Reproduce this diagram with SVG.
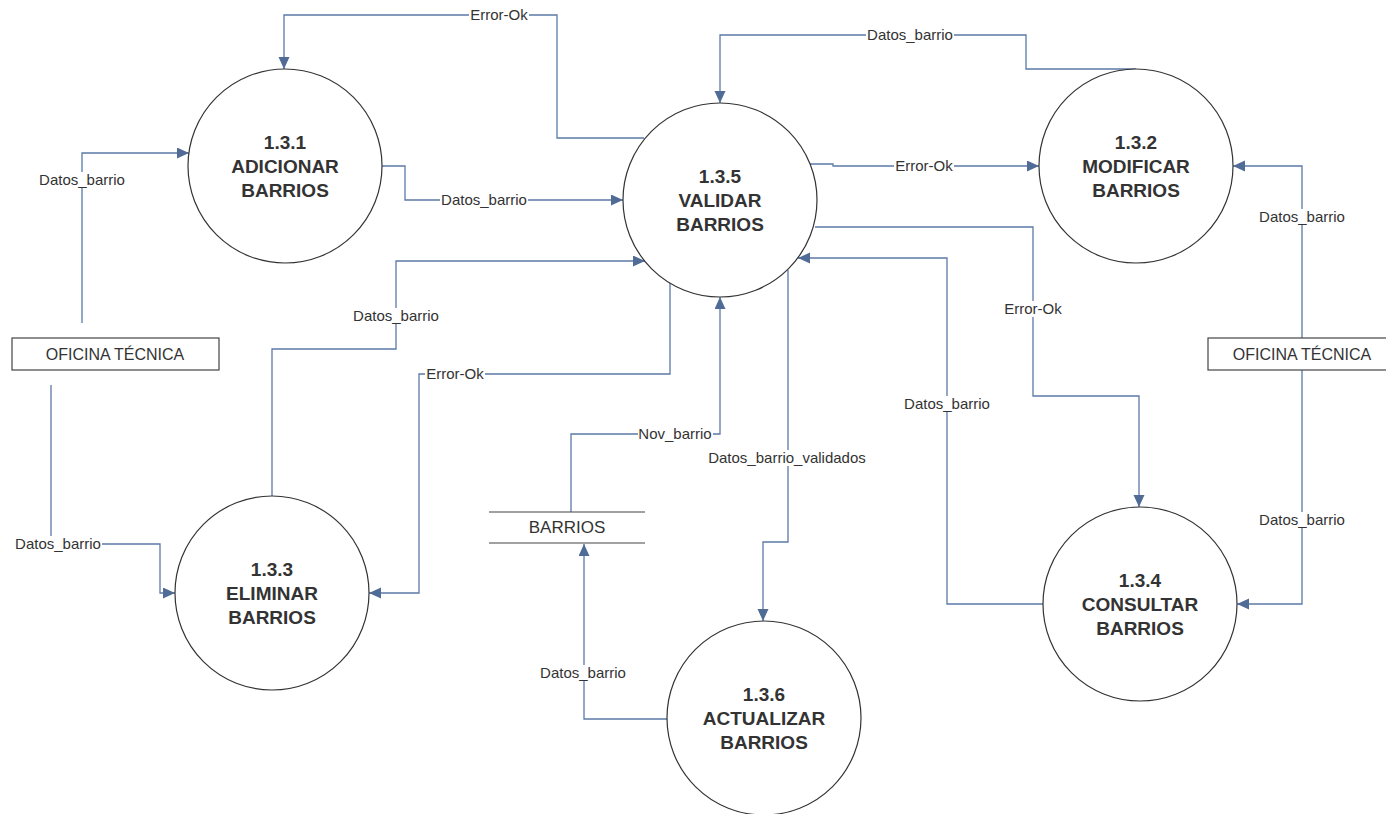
<svg xmlns="http://www.w3.org/2000/svg" width="1386" height="814" viewBox="0 0 1386 814">
  <style>
    .proc { fill: #ffffff; stroke: #333333; stroke-width: 1.2; }
    .ptxt { font-family: "Liberation Sans", Arial, sans-serif; font-size: 19px; font-weight: bold; fill: #333333; text-anchor: middle; }
    .ent { fill: #ffffff; stroke: #444444; stroke-width: 1.2; }
    .etxt { font-family: "Liberation Sans", Arial, sans-serif; font-size: 16px; fill: #333333; text-anchor: middle; }
    .flow { fill: none; stroke: #5b79a8; stroke-width: 1.3; marker-end: url(#arrow); }
    .lbg { fill: #ffffff; }
    .ltxt { font-family: "Liberation Sans", Arial, sans-serif; font-size: 15px; fill: #333333; text-anchor: middle; }
  </style>
  <defs>
    <marker id="arrow" markerUnits="userSpaceOnUse" markerWidth="13" markerHeight="12" refX="12" refY="5.5" orient="auto">
      <path d="M0,0 L12,5.5 L0,11 Z" fill="#4f6b96"/>
    </marker>
  </defs>
  <rect width="1386" height="814" fill="#ffffff"/>

  <!-- data flows -->
  <g id="connectors">
    <path class="flow" d="M644,138 H557 V15 H284 V69"/>
    <path class="flow" d="M1136,69 H1026 V35 H720 V103"/>
    <path class="flow" d="M810,164 H833 V166 H1039"/>
    <path class="flow" d="M382,166 H405 V200 H623"/>
    <path class="flow" d="M82,323 V153 H189"/>
    <path class="flow" d="M51,385 V544 H160 V593 H175"/>
    <path class="flow" d="M272,496 V349 H396 V261 H645"/>
    <path class="flow" d="M670,283 V374 H419 V593 H369"/>
    <path class="flow" d="M571,512 V434 H720 V297"/>
    <path class="flow" d="M788,270 V542 H763 V621"/>
    <path class="flow" d="M667,719 H584 V544"/>
    <path class="flow" d="M815,227 H1033 V396 H1139 V507"/>
    <path class="flow" d="M1043,604 H947 V258 H798"/>
    <path class="flow" d="M1302,338 V166 H1233"/>
    <path class="flow" d="M1302,370 V604 H1237"/>

    <!-- flow labels -->
    <rect class="lbg" x="469" y="7" width="60" height="16"/>
    <text class="ltxt" x="499" y="20">Error-Ok</text>
    <rect class="lbg" x="866" y="27" width="88" height="16"/>
    <text class="ltxt" x="910" y="40">Datos_barrio</text>
    <rect class="lbg" x="894" y="158" width="60" height="16"/>
    <text class="ltxt" x="924" y="171">Error-Ok</text>
    <rect class="lbg" x="440" y="192" width="88" height="16"/>
    <text class="ltxt" x="484" y="205">Datos_barrio</text>
    <rect class="lbg" x="38" y="172" width="88" height="16"/>
    <text class="ltxt" x="82" y="185">Datos_barrio</text>
    <rect class="lbg" x="14" y="536" width="88" height="16"/>
    <text class="ltxt" x="58" y="549">Datos_barrio</text>
    <rect class="lbg" x="352" y="308" width="88" height="16"/>
    <text class="ltxt" x="396" y="321">Datos_barrio</text>
    <rect class="lbg" x="425" y="366" width="60" height="16"/>
    <text class="ltxt" x="455" y="379">Error-Ok</text>
    <rect class="lbg" x="638" y="426" width="75" height="16"/>
    <text class="ltxt" x="675" y="439">Nov_barrio</text>
    <rect class="lbg" x="705" y="450" width="166" height="16"/>
    <text class="ltxt" x="787" y="463">Datos_barrio_validados</text>
    <rect class="lbg" x="539" y="665" width="88" height="16"/>
    <text class="ltxt" x="583" y="678">Datos_barrio</text>
    <rect class="lbg" x="1003" y="301" width="60" height="16"/>
    <text class="ltxt" x="1033" y="314">Error-Ok</text>
    <rect class="lbg" x="903" y="396" width="88" height="16"/>
    <text class="ltxt" x="947" y="409">Datos_barrio</text>
    <rect class="lbg" x="1258" y="209" width="88" height="16"/>
    <text class="ltxt" x="1302" y="222">Datos_barrio</text>
    <rect class="lbg" x="1258" y="512" width="88" height="16"/>
    <text class="ltxt" x="1302" y="525">Datos_barrio</text>
  </g>

  <!-- processes -->
  <g id="p131">
    <circle class="proc" cx="285" cy="166" r="97"/>
    <text class="ptxt" x="285" y="149">1.3.1</text>
    <text class="ptxt" x="285" y="173">ADICIONAR</text>
    <text class="ptxt" x="285" y="197">BARRIOS</text>
  </g>
  <g id="p135">
    <circle class="proc" cx="720" cy="200" r="97"/>
    <text class="ptxt" x="720" y="183">1.3.5</text>
    <text class="ptxt" x="720" y="207">VALIDAR</text>
    <text class="ptxt" x="720" y="231">BARRIOS</text>
  </g>
  <g id="p132">
    <circle class="proc" cx="1136" cy="166" r="97"/>
    <text class="ptxt" x="1136" y="149">1.3.2</text>
    <text class="ptxt" x="1136" y="173">MODIFICAR</text>
    <text class="ptxt" x="1136" y="197">BARRIOS</text>
  </g>
  <g id="p133">
    <circle class="proc" cx="272" cy="593" r="97"/>
    <text class="ptxt" x="272" y="576">1.3.3</text>
    <text class="ptxt" x="272" y="600">ELIMINAR</text>
    <text class="ptxt" x="272" y="624">BARRIOS</text>
  </g>
  <g id="p134">
    <circle class="proc" cx="1140" cy="604" r="97"/>
    <text class="ptxt" x="1140" y="587">1.3.4</text>
    <text class="ptxt" x="1140" y="611">CONSULTAR</text>
    <text class="ptxt" x="1140" y="635">BARRIOS</text>
  </g>
  <g id="p136">
    <circle class="proc" cx="764" cy="718" r="97"/>
    <text class="ptxt" x="764" y="701">1.3.6</text>
    <text class="ptxt" x="764" y="725">ACTUALIZAR</text>
    <text class="ptxt" x="764" y="749">BARRIOS</text>
  </g>

  <!-- external entities -->
  <g id="oficina-left">
    <rect class="ent" x="12" y="338" width="207" height="32"/>
    <text class="etxt" x="115" y="360">OFICINA TÉCNICA</text>
  </g>
  <g id="oficina-right">
    <rect class="ent" x="1208" y="338" width="207" height="32"/>
    <text class="etxt" x="1302" y="360">OFICINA TÉCNICA</text>
  </g>

  <!-- data store -->
  <g id="store-barrios">
    <line x1="489" y1="512" x2="645" y2="512" stroke="#444444" stroke-width="1.2"/>
    <line x1="489" y1="543" x2="645" y2="543" stroke="#444444" stroke-width="1.2"/>
    <text class="etxt" x="567" y="533" style="font-size:17px">BARRIOS</text>
  </g>
</svg>
